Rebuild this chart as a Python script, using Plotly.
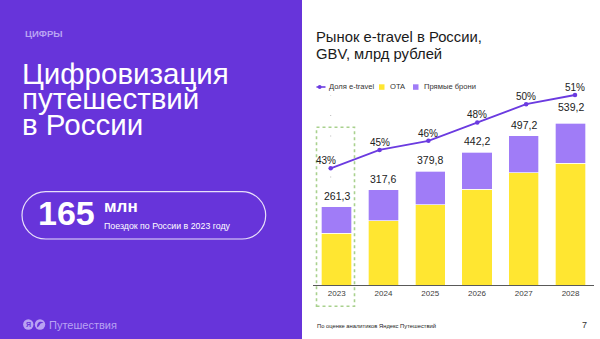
import plotly.graph_objects as go

# --- data -------------------------------------------------------------
years = [2023, 2024, 2025, 2026, 2027, 2028]
year_labels = ["2023", "2024", "2025", "2026", "2027", "2028"]
ota = [172.5, 214.4, 267.8, 320.1, 374.5, 405.8]          # OTA, млрд руб.
direct = [88.8, 103.2, 112.0, 122.1, 122.7, 133.4]        # Прямые брони, млрд руб.
share = [43, 45, 46, 48, 50, 51]                          # Доля e-travel, %

totals = [round(a + b, 1) for a, b in zip(ota, direct)]

# --- page geometry helpers (pixels -> paper) ----------------------------
W, H = 600, 339
FONT = "Arial, Liberation Sans, sans-serif"


def px(x):
    return x / W


def py(y):
    return 1 - y / H


PURPLE_BG = "#6734DA"
YELLOW = "#FFE631"
LAVENDER = "#A07CF7"
LINE_COL = "#6B3BE0"
PALE = "#B9A3F3"

fig = go.Figure()

fig.add_trace(go.Bar(
    x=years, y=ota, name="OTA", width=0.65,
    marker=dict(color=YELLOW, line=dict(color="rgba(255,255,255,0.85)", width=0.8)),
))
fig.add_trace(go.Bar(
    x=years, y=direct, name="Прямые брони", width=0.65,
    marker=dict(color=LAVENDER, line=dict(color="rgba(255,255,255,0.85)", width=0.8)),
))
fig.add_trace(go.Scatter(
    x=years, y=share, name="Доля e-travel", xaxis="x2", yaxis="y2",
    mode="lines+markers",
    line=dict(color=LINE_COL, width=1.8),
    marker=dict(color=LINE_COL, size=4.5),
))

# totals above the bars
total_shift = [3, 3, 3, 3, 3, 8]
for yr, t, s in zip(years, totals, total_shift):
    fig.add_annotation(
        x=yr, y=t, xref="x", yref="y", yanchor="bottom", yshift=s,
        text=f"{t:.1f}".replace(".", ","), showarrow=False,
        font=dict(family=FONT, size=10.5, color="#222222"),
    )

# share labels above the line points
share_xshift = [-5, 0, 0, 0, 0, 0]
for yr, p, dx in zip(years, share, share_xshift):
    fig.add_annotation(
        x=yr, y=p, xref="x2", yref="y2", yanchor="middle", yshift=7.5, xshift=dx,
        text=f"{p}%", showarrow=False,
        font=dict(family=FONT, size=10, color="#222222"),
    )

shapes = []
annotations = []

# purple left panel
shapes.append(dict(type="rect", xref="paper", yref="paper", x0=0, x1=px(302), y0=0, y1=1,
                   fillcolor=PURPLE_BG, line=dict(width=0), layer="below"))

# highlight frame around the 2023 column
shapes.append(dict(type="rect", xref="paper", yref="paper",
                   x0=px(316.5), x1=px(354.5), y0=py(306.3), y1=py(127.3),
                   line=dict(color="#A9D18E", width=1.6, dash="3px,3px")))

# faint dotted guide at the first line point
shapes.append(dict(type="line", xref="paper", yref="paper",
                   x0=px(330.7), x1=px(330.7), y0=py(177.5), y1=py(95),
                   line=dict(color="#BBBBBB", width=1, dash="1px,19.5px")))

# rounded pill on the left panel
x0, x1, y0, y1 = 22.0, 265.7, 191.7, 239.0
r = (y1 - y0) / 2
cy = (y0 + y1) / 2
k = 0.5523 * r


def P(x, y):
    return f"{px(x):.5f},{py(y):.5f}"


pill = (f"M {P(x0 + r, y0)} L {P(x1 - r, y0)} "
        f"C {P(x1 - r + k, y0)} {P(x1, cy - k)} {P(x1, cy)} "
        f"C {P(x1, cy + k)} {P(x1 - r + k, y1)} {P(x1 - r, y1)} "
        f"L {P(x0 + r, y1)} "
        f"C {P(x0 + r - k, y1)} {P(x0, cy + k)} {P(x0, cy)} "
        f"C {P(x0, cy - k)} {P(x0 + r - k, y0)} {P(x0 + r, y0)} Z")
shapes.append(dict(type="path", xref="paper", yref="paper", path=pill,
                   line=dict(color="rgba(255,255,255,0.85)", width=1.2)))

# logo circles
for cx in (28.3, 40.0):
    shapes.append(dict(type="circle", xref="paper", yref="paper",
                       x0=px(cx - 5.2), x1=px(cx + 5.2), y0=py(324.5 + 5.2), y1=py(324.5 - 5.2),
                       fillcolor=PALE, line=dict(width=0)))
shapes.append(dict(type="path", xref="paper", yref="paper",
                   path=f"M {P(37.2, 327.5)} C {P(36.5, 322)} {P(40.5, 320.5)} {P(43.5, 322.5)} "
                        f"L {P(40.5, 323.5)} C {P(39.5, 324.5)} {P(39.5, 326.5)} {P(37.2, 327.5)} Z",
                   fillcolor=PURPLE_BG, line=dict(width=0)))

# manual legend
shapes.append(dict(type="line", xref="paper", yref="paper",
                   x0=px(316.5), x1=px(325.5), y0=py(87), y1=py(87),
                   line=dict(color=LINE_COL, width=1.6)))
shapes.append(dict(type="circle", xref="paper", yref="paper",
                   x0=px(317.8), x1=px(321.6), y0=py(88.9), y1=py(85.1),
                   fillcolor=LINE_COL, line=dict(width=0)))
shapes.append(dict(type="rect", xref="paper", yref="paper",
                   x0=px(379), x1=px(384.5), y0=py(89.8), y1=py(84.3),
                   fillcolor=YELLOW, line=dict(width=0)))
shapes.append(dict(type="rect", xref="paper", yref="paper",
                   x0=px(413), x1=px(418.5), y0=py(89.8), y1=py(84.3),
                   fillcolor=LAVENDER, line=dict(width=0)))


def text(x, y, s, size, color, anchor="left", bold=False, yanchor="middle"):
    annotations.append(dict(
        x=px(x), y=py(y), xref="paper", yref="paper", xanchor=anchor, yanchor=yanchor,
        text=f"<b>{s}</b>" if bold else s, showarrow=False,
        font=dict(family=FONT, size=size, color=color),
    ))


text(327.5, 87, "Доля e-travel", 7.6, "#333333")
text(388, 87, "OTA", 7.6, "#333333")
text(422, 87, "Прямые брони", 7.6, "#333333")

# right-hand titles and footer
text(314, 36.8, "Рынок e-travel в России,", 14.8, "#1a1a1a")
text(314, 53.5, "GBV, млрд рублей", 14.8, "#1a1a1a")
text(314.5, 325.5, "По оценке аналитиков Яндекс Путешествий", 5.8, "#222222")
text(584.5, 325, "7", 9, "#333333", anchor="center")

# left panel texts
text(22.5, 33.5, "ЦИФРЫ", 9.5, PALE, bold=True)
text(20, 73.5, "Цифровизация", 29.5, "#ffffff")
text(20, 98.8, "путешествий", 29.5, "#ffffff")
text(20, 124, "в России", 29.5, "#ffffff")
text(35.5, 213, "165", 34, "#ffffff", bold=True)
text(101.5, 206.5, "млн", 17, "#ffffff", bold=True)
text(101.5, 225.5, "Поездок по России в 2023 году", 8.8, "#ffffff")
text(46.5, 324.8, "Путешествия", 11, PALE)
text(28.3, 324.8, "Я", 7, PURPLE_BG, anchor="center", bold=True)

fig.update_layout(
    width=W, height=H,
    margin=dict(l=0, r=0, t=0, b=0),
    paper_bgcolor="#ffffff", plot_bgcolor="rgba(0,0,0,0)",
    barmode="stack", showlegend=False,
    shapes=shapes,
    xaxis=dict(domain=[313.3 / W, 593.9 / W], range=[2022.5, 2028.5],
               tickmode="array", tickvals=years, ticktext=year_labels,
               showgrid=False, zeroline=False, showline=True,
               linecolor="#595959", linewidth=1, ticks="",
               tickfont=dict(family=FONT, size=8, color="#404040")),
    yaxis=dict(domain=[py(285), 1], range=[0, 285 / 0.2999],
               showgrid=False, zeroline=False, showline=False, showticklabels=False),
    xaxis2=dict(domain=[313.3 / W, 593.9 / W], range=[2022.644, 2028.387],
                overlaying="x", visible=False),
    yaxis2=dict(domain=[py(285), 1], range=[30.26, 61.37],
                overlaying="y", visible=False),
)
fig.update_layout(annotations=list(fig.layout.annotations) + annotations)

fig.write_html("out.html")
